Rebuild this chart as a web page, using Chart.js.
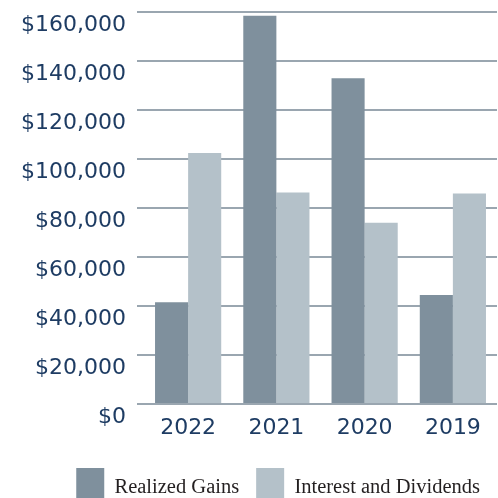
<!DOCTYPE html>
<html>
<head>
<meta charset="utf-8">
<script src="https://cdn.jsdelivr.net/npm/chart.js@4/dist/chart.umd.min.js"></script>
<style>
  html, body { margin: 0; padding: 0; background: #ffffff; overflow: hidden; }
  #wrap { width: 498px; height: 518px; }
</style>
</head>
<body>
<div id="wrap"><canvas id="c" width="498" height="518"></canvas></div>
<script>
const categories = ["2022", "2021", "2020", "2019"];
const realizedGains = [41500, 158500, 133000, 44500];
const interestDividends = [102500, 86300, 74000, 85900];
const seriesNames = ["Realized Gains", "Interest and Dividends"];
const yTicks = [0, 20000, 40000, 60000, 80000, 100000, 120000, 140000, 160000];

const navy = "#1e3c63";
new Chart(document.getElementById("c"), {
  type: "bar",
  data: {
    labels: categories,
    datasets: [
      { label: seriesNames[0], data: realizedGains, backgroundColor: "#7f909d" },
      { label: seriesNames[1], data: interestDividends, backgroundColor: "#b4c1c9" }
    ]
  },
  options: {
    responsive: false,
    animation: false,
    layout: { padding: { top: 12, right: 1, left: 0, bottom: 0 } },
    datasets: { bar: { categoryPercentage: 0.75, barPercentage: 1.0 } },
    plugins: {
      tooltip: { enabled: false },
      legend: {
        position: "bottom",
        align: "end",
        labels: {
          boxWidth: 28,
          boxHeight: 40,
          padding: 17,
          color: "#231f20",
          font: { family: "Liberation Serif", size: 20.5 }
        }
      }
    },
    scales: {
      x: {
        grid: { display: false },
        border: { display: false },
        ticks: {
          color: navy,
          padding: 3,
          font: { family: "DejaVu Sans", size: 22 }
        },
        afterFit: (s) => { s.height = 47; }
      },
      y: {
        min: yTicks[0],
        max: yTicks[yTicks.length - 1],
        afterBuildTicks: (s) => { s.ticks = yTicks.map(v => ({ value: v })); },
        border: { display: false },
        grid: { color: "#9aa6b0", lineWidth: 2, tickLength: 7, tickColor: "#9aa6b0" },
        ticks: {
          color: navy,
          padding: 11,
          labelOffset: 13,
          font: { family: "DejaVu Sans", size: 22 },
          callback: (v) => "$" + Number(v).toLocaleString("en-US")
        },
        afterFit: (s) => { s.width = 144; s.paddingTop = 0; s.paddingBottom = 0; }
      }
    }
  }
});
</script>
</body>
</html>
